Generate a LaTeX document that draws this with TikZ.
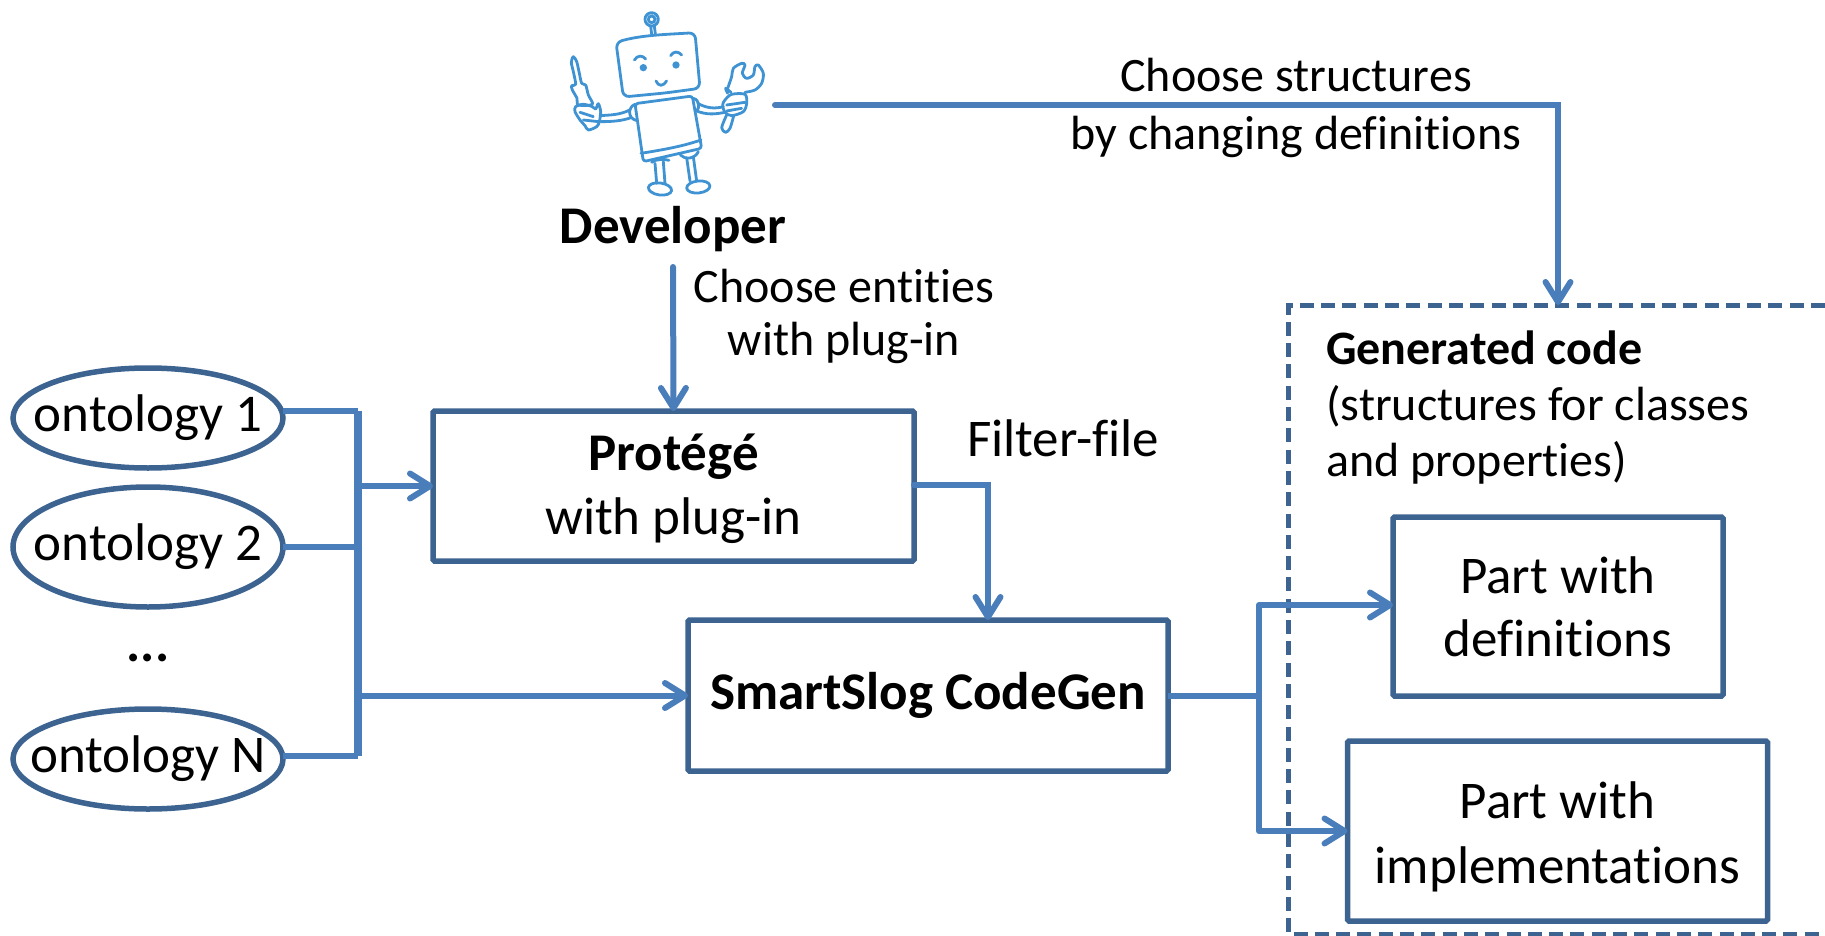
\documentclass[tikz,border=0pt]{standalone}
\usepackage{fontspec}
\setmainfont[Ligatures=NoCommon]{Carlito}
\usetikzlibrary{shapes.geometric,arrows.meta}

\definecolor{boxblue}{HTML}{3D6491}
\definecolor{linkblue}{HTML}{4A7EBB}
\definecolor{robotblue}{HTML}{3F93D3}

\tikzstyle{ontology} = [draw=boxblue, line width=5.5pt, ellipse, minimum width=270pt, minimum height=100pt, inner xsep=-25pt, inner ysep=0pt, outer sep=0pt, font=\fontsize{53}{62}\selectfont]
\tikzstyle{block} = [draw=boxblue, line width=5.5pt, rectangle, rounded corners=1.5pt, inner sep=0pt, outer sep=0pt, align=center, font=\fontsize{53}{63}\selectfont]
\tikzstyle{caption} = [inner sep=0pt, align=center, font=\fontsize{48}{58}\selectfont]
\tikzstyle{link} = [linkblue, line width=6pt]
\tikzstyle{arrow} = [link, -{Straight Barb[length=20pt,width=25pt,round]}, line cap=round]
\tikzstyle{codearea} = [boxblue, line width=5pt, dash pattern=on 14pt off 7.3pt]
\tikzstyle{robot} = [robotblue, line width=2.8pt, line join=round, line cap=round]

\begin{document}
\begin{tikzpicture}[x=1pt, y=-1pt]
\useasboundingbox (0,0) rectangle (1825,936);

% Developer
\begin{scope}[shift={(555,5)}, x=0.3333pt, y=-0.3333pt]
\draw [robot] (290,43) circle (20) (290,43) circle (10);
\draw [robot] (287,63) -- (290,88) (298,63) -- (301,86);
\draw [robot, rounded corners=6pt] (183,112) .. controls (260,90) and (340,88) .. (420,83) -- (435,250) -- (330,264) -- (205,276) -- cycle;
\draw [robot] (238,165) .. controls (248,150) and (262,150) .. (272,162);
\draw [robot] (347,152) .. controls (355,138) and (370,138) .. (380,150);
\fill [robotblue] (265,188) circle (11) (363,180) circle (11);
\draw [robot] (303,228) .. controls (310,245) and (325,245) .. (335,228);
\draw [robot, rounded corners=3pt] (240,296) -- (412,273) -- (440,430) -- (265,470) -- cycle;
\draw [robot] (258,445) .. controls (320,435) and (380,425) .. (438,405);
\draw [robot] (240,298) .. controls (220,305) and (215,340) .. (246,347);
\draw [robot] (415,280) .. controls (435,285) and (435,310) .. (424,318);
\draw [robot] (224,315) .. controls (195,330) and (165,330) .. (135,332);
\draw [robot] (228,338) .. controls (200,348) and (170,350) .. (138,350);
\draw [robot] (428,295) .. controls (455,310) and (480,312) .. (505,305);
\draw [robot] (425,318) .. controls (455,330) and (480,328) .. (510,322);
% screwdriver
\draw [robot] plot [smooth cycle] coordinates {(55,155) (65,170) (72,200) (80,235) (92,240) (100,270) (112,298) (70,300) (66,280) (52,255) (50,242) (62,238) (55,200) (49,172)};
\draw [robot] plot [smooth cycle] coordinates {(62,305) (85,298) (112,305) (122,312) (130,296) (137,320) (133,350) (125,365) (100,375) (90,362) (75,345) (60,320)};
\draw [robot] (75,322) -- (115,335) (85,345) -- (130,350);
% wrench
\draw [robot] plot [smooth] coordinates {(518,250) (530,215) (535,190) (560,175) (570,180) (562,205) (575,220) (595,210) (600,185) (610,180) (625,205) (620,235) (600,255) (570,262)};
\draw [robot] plot [smooth] coordinates {(528,262) (512,250) (518,265)};
\draw [robot] plot [smooth cycle] coordinates {(510,285) (530,268) (570,268) (575,295) (565,320) (530,332) (510,322) (503,300)};
\draw [robot] (515,300) -- (570,292) (515,318) -- (560,310);
\draw [robot] plot [smooth] coordinates {(515,330) (500,368) (512,382) (525,370) (536,333)};
% feet
\draw [robot] (300,475) -- (305,535) (325,470) -- (330,535) (395,458) -- (405,528) (415,455) -- (425,528);
\draw [robot] (290,472) .. controls (300,462) and (330,462) .. (342,466);
\draw [robot] (376,450) .. controls (390,465) and (420,462) .. (430,440);
\draw [robot, rotate around={-8:(315,552)}] (315,552) ellipse (35 and 18);
\draw [robot, rotate around={6:(430,546)}] (430,546) ellipse (35 and 18);
\end{scope}
\coordinate (robotHand) at (775,105);
\node (developer) [inner sep=0pt, outer sep=0pt, minimum height=76pt, font=\fontsize{53}{60}\selectfont\bfseries] at (673,229) {Developer};

% Ontologies
\node (ontology1) [ontology] at (148,418) {ontology 1};
\node (ontology2) [ontology, minimum height=120pt] at (148,547) {ontology 2};
\node (ontologyN) [ontology] at (148,759) {ontology N};
\node (dots) [font=\fontsize{53}{62}\selectfont\bfseries] at (148,658) {...};

% Tools
\node (protege) [block, minimum width=481pt, minimum height=150pt] at (673.5,486) {\rule{0pt}{43pt}\textbf{Protégé}\\[1pt]with plug-in};
\node (codegen) [block, minimum width=480pt, minimum height=151pt] at (928,695.5) {\textbf{SmartSlog CodeGen}};

% Generated code
\coordinate (codeTR) at (1825,305);
\coordinate (codeTL) at (1288,305);
\coordinate (codeBL) at (1288,934);
\coordinate (codeBR) at (1825,934);
\draw [codearea] (codeTR) -- (codeTL) -- (codeBL) -- (codeBR);
\node (generated) [anchor=north west, inner sep=0pt, align=left, font=\fontsize{48}{56}\selectfont] at (1326,331) {\textbf{Generated code}\\(structures for classes\\and properties)};
\node (partdef) [block, minimum width=330pt, minimum height=179pt] at (1558,606.5) {Part with\\definitions};
\node (partimpl) [block, minimum width=420pt, minimum height=180pt] at (1557.5,831) {\rule{0pt}{48pt}Part with\\[2pt]implementations};

% Labels
\node (structlabel) [caption] at (1296,108) {Choose structures\\by changing definitions};
\node (entitylabel) [caption, font=\fontsize{48}{53}\selectfont] at (844,316) {Choose entities\\with plug-in};
\node (filelabel) [caption, font=\fontsize{53}{60}\selectfont] at (1063,438) {Filter-file};

% Arrows
\coordinate (busTop) at (358,411);
\coordinate (busBottom) at (358,756);
\coordinate (structTurn) at (1558,105);
\coordinate (fileTurn) at (988,485);
\coordinate (outTop) at (1259,605);
\coordinate (outBottom) at (1259,831);
\draw [link, line width=8pt] (busTop) -- (busBottom);
\draw [link] (ontology1.east |- busTop) -- (busTop);
\draw [link] (ontology2.east) -- (ontology2.east -| busTop);
\draw [link] (ontologyN.east |- busBottom) -- (busBottom);
\draw [arrow] (busTop |- protege.west) -- (protege.west);
\draw [arrow] (busTop |- codegen.west) -- (codegen.west);
\draw [arrow] (developer.south) -- (protege.north);
\draw [arrow] (robotHand) -- (structTurn) -- (structTurn |- codeTL);
\draw [arrow] (protege.east |- fileTurn) -- (fileTurn) -- (fileTurn |- codegen.north);
\draw [link] (codegen.east) -- (codegen.east -| outTop);
\draw [link] (outTop) -- (outBottom);
\draw [arrow] (outTop) -- (outTop -| partdef.west);
\draw [arrow] (outBottom) -- (outBottom -| partimpl.west);

\end{tikzpicture}
\end{document}
